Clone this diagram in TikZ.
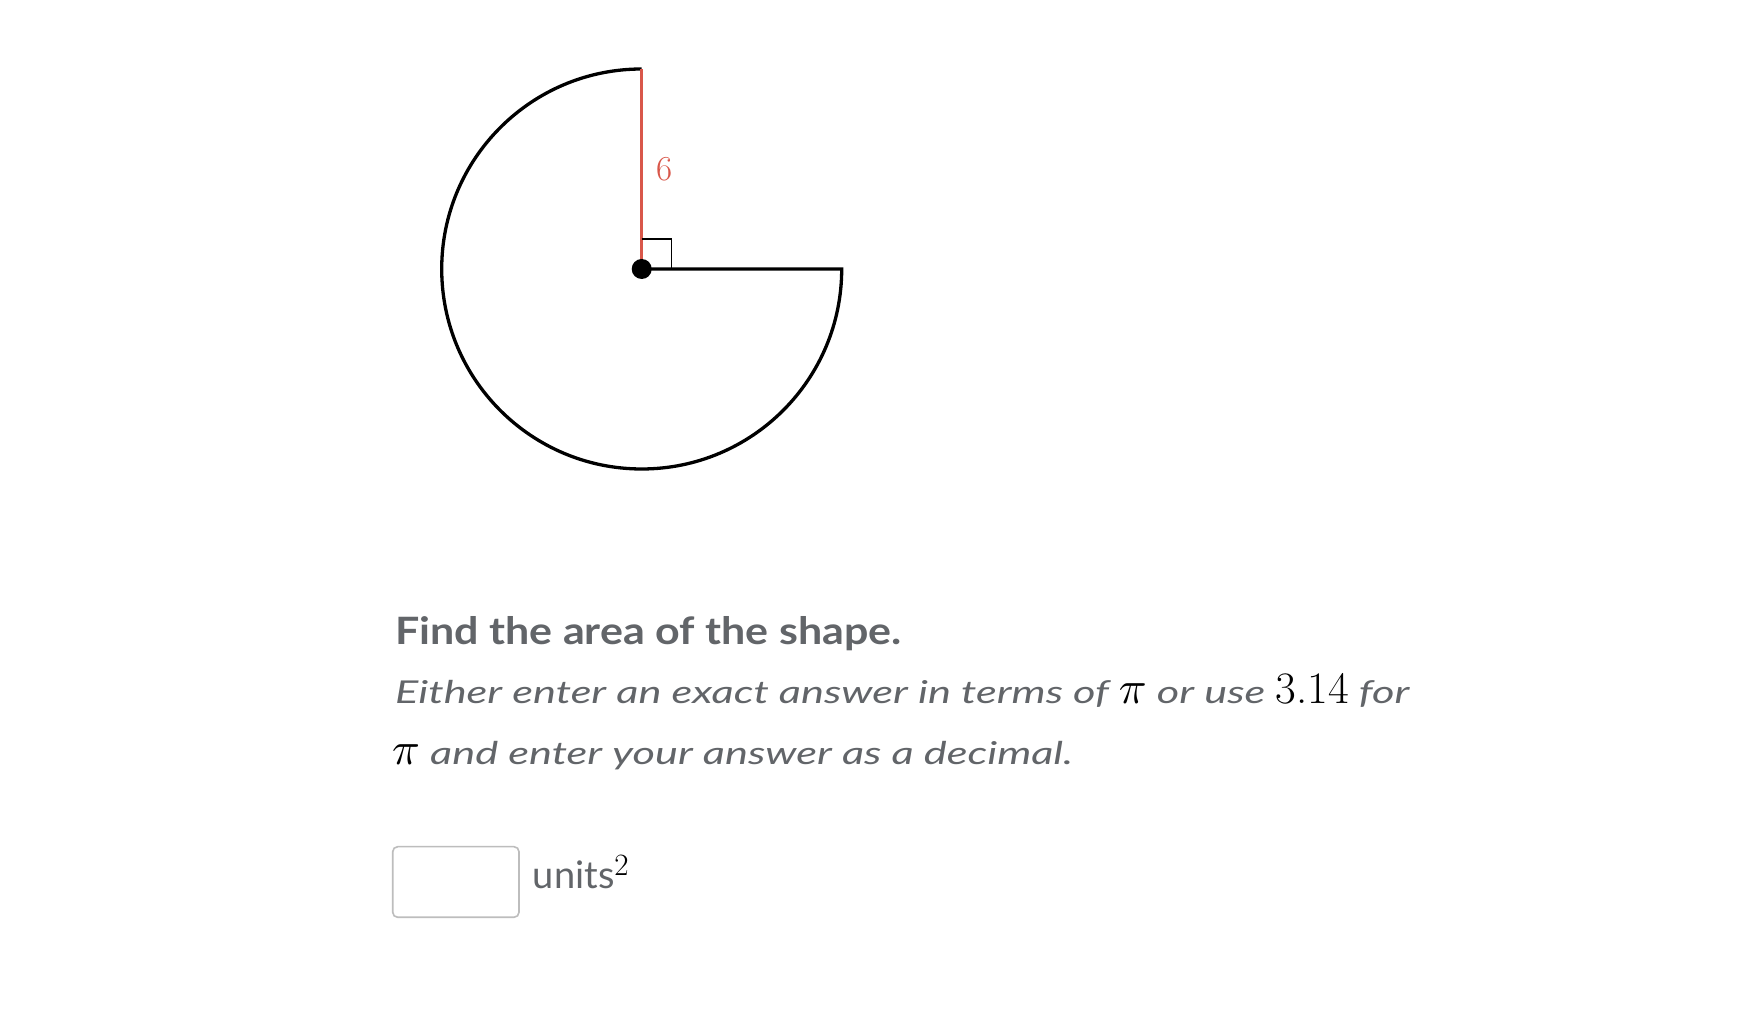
\documentclass[tikz,border=0pt]{standalone}
\usepackage{graphicx}
\usepackage{fontspec}
\setmainfont{Lato}
\newfontfamily\lmr{Latin Modern Roman}
\newfontfamily\qbf{Lato}[FakeStretch=1.14]
\newfontfamily\qit{Lato}[FakeStretch=1.375]
\definecolor{txtgray}{HTML}{626569}
\definecolor{radred}{HTML}{D9574A}
\definecolor{boxgray}{HTML}{BDBDBD}
\tikzset{
  shapeline/.style={line width=3.3pt, black},
  txt/.style={anchor=base west, inner sep=0pt, text=txtgray},
}
\newcommand{\mpi}{{\color{black}\scalebox{4.6}{\fontsize{10}{12}\selectfont$\pi$}}}
\begin{document}
\begin{tikzpicture}[x=1pt,y=1pt]
\useasboundingbox[fill=white] (0,0) rectangle (1758,1017);
\coordinate (C) at (641.7,748);
\coordinate (T) at (641.7,948);
\coordinate (E) at (841.7,748);
% sector
\draw[shapeline, line join=miter] (T) arc[start angle=90, end angle=360, radius=200] -- (C);
% radius (red)
\draw[radred, line width=2.6pt] (C) -- (T);
\node[text=radred, font=\lmr\fontsize{35}{35}\selectfont, inner sep=0pt] (six) at (664.5,848) {6};
% right angle mark
\draw[line width=1.3pt] (641.7,778) -- (671.7,778) -- (671.7,748);
% center dot
\fill[black] (C) circle[radius=10];
% texts
\node[txt, font=\qbf\bfseries\fontsize{37.7}{37.7}\selectfont] (l1) at (395,372.7) {Find the area of the shape.};
\node[txt, font=\qit\itshape\fontsize{31.5}{31.5}\selectfont] (l2) at (395,313)
  {Either enter an exact answer in terms of \mpi{} or use {\lmr\upshape\fontsize{45}{45}\selectfont\color{black}3.14} for};
\node[txt, font=\qit\itshape\fontsize{31.5}{31.5}\selectfont] (l3) at (392,252.7)
  {\mpi{} and enter your answer as a decimal.};
% answer box
\draw[boxgray, line width=1.6pt, rounded corners=5pt] (392.7,99.7) rectangle (519,170.3);
\node[txt, font=\fontsize{38}{38}\selectfont] (units) at (532.7,128.7)
  {units\raisebox{13pt}{\fontsize{31}{31}\selectfont\color{black}\lmr 2}};
\end{tikzpicture}
\end{document}
